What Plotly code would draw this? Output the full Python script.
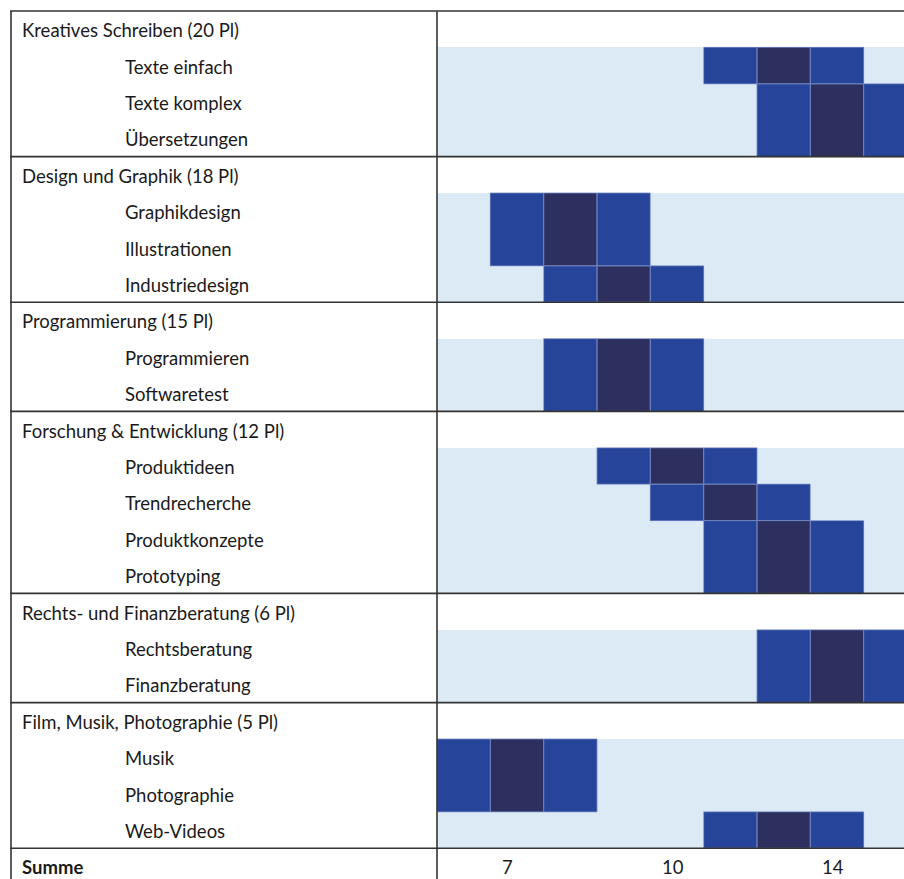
import plotly.graph_objects as go

# ---------------- data ----------------
group_labels = [
    "Kreatives Schreiben (20 Pl)",
    "Design und Graphik (18 Pl)",
    "Programmierung (15 Pl)",
    "Forschung & Entwicklung (12 Pl)",
    "Rechts- und Finanzberatung (6 Pl)",
    "Film, Musik, Photographie (5 Pl)",
]
group_items = [
    ["Texte einfach", "Texte komplex", "Übersetzungen"],
    ["Graphikdesign", "Illustrationen", "Industriedesign"],
    ["Programmieren", "Softwaretest"],
    ["Produktideen", "Trendrecherche", "Produktkonzepte", "Prototyping"],
    ["Rechtsberatung", "Finanzberatung"],
    ["Musik", "Photographie", "Web-Videos"],
]
# level per column (0 = light, 1 = blue, 2 = dark)
item_levels = {
    "Texte einfach":   [0, 0, 0, 0, 0, 1, 2, 1, 0],
    "Texte komplex":   [0, 0, 0, 0, 0, 0, 1, 2, 1],
    "Übersetzungen":   [0, 0, 0, 0, 0, 0, 1, 2, 1],
    "Graphikdesign":   [0, 1, 2, 1, 0, 0, 0, 0, 0],
    "Illustrationen":  [0, 1, 2, 1, 0, 0, 0, 0, 0],
    "Industriedesign": [0, 0, 1, 2, 1, 0, 0, 0, 0],
    "Programmieren":   [0, 0, 1, 2, 1, 0, 0, 0, 0],
    "Softwaretest":    [0, 0, 1, 2, 1, 0, 0, 0, 0],
    "Produktideen":    [0, 0, 0, 1, 2, 1, 0, 0, 0],
    "Trendrecherche":  [0, 0, 0, 0, 1, 2, 1, 0, 0],
    "Produktkonzepte": [0, 0, 0, 0, 0, 1, 2, 1, 0],
    "Prototyping":     [0, 0, 0, 0, 0, 1, 2, 1, 0],
    "Rechtsberatung":  [0, 0, 0, 0, 0, 0, 1, 2, 1],
    "Finanzberatung":  [0, 0, 0, 0, 0, 0, 1, 2, 1],
    "Musik":           [1, 2, 1, 0, 0, 0, 0, 0, 0],
    "Photographie":    [1, 2, 1, 0, 0, 0, 0, 0, 0],
    "Web-Videos":      [0, 0, 0, 0, 0, 1, 2, 1, 0],
}
n_cols = 9
summe_label = "Summe"
summe_cols = [1, 4, 7]
summe_vals = ["7", "10", "14"]

# ---------------- styles ----------------
W, H = 904, 879
LEFT, DIV, TOP = 11, 437, 11
ROW_H = 36.4
COL_W = 53.33
LIGHT, BLUE, DARK = "#dceaf6", "#26459a", "#2d305f"
LINE = "#333333"
TXT = "#1a1a1a"
FONT = "Lato"
FSIZE = 18.5

# build rows
rows = []  # (kind, label, levels)
for g, items in zip(group_labels, group_items):
    rows.append(("group", g, None))
    for it in items:
        rows.append(("item", it, item_levels[it]))
rows.append(("summe", summe_label, None))
n_rows = len(rows)

z = []
for kind, label, lv in rows:
    z.append(lv if lv is not None else [None] * n_cols)

fig = go.Figure()
fig.add_trace(go.Heatmap(
    z=z, x=list(range(n_cols)), y=list(range(n_rows)),
    zmin=0, zmax=2,
    colorscale=[[0, LIGHT], [0.333, LIGHT], [0.333, BLUE], [0.667, BLUE],
                [0.667, DARK], [1, DARK]],
    showscale=False, hoverinfo="skip",
))

shapes = []
# outlines of active cells: merge vertical runs of identical values in a column
for c in range(n_cols):
    r = 0
    while r < n_rows:
        v = z[r][c]
        if v is None or v == 0:
            r += 1
            continue
        r2 = r
        while r2 + 1 < n_rows and z[r2 + 1][c] == v:
            r2 += 1
        shapes.append(dict(type="rect", xref="x", yref="y",
                           x0=c - 0.5, x1=c + 0.5, y0=r - 0.5, y1=r2 + 0.5,
                           line=dict(color="rgba(115,135,195,0.8)", width=1),
                           fillcolor="rgba(0,0,0,0)", layer="above"))
        r = r2 + 1

# table lines
x_left = LEFT / W
x_div = DIV / W
group_bounds = [r - 0.5 for r, (k, _, _) in enumerate(rows) if k in ("group", "summe")]
for yb in group_bounds:
    shapes.append(dict(type="line", xref="paper", yref="y", x0=x_left - 0.001, x1=1,
                       y0=yb, y1=yb, line=dict(color=LINE, width=1.6), layer="above"))
for xv in (x_left, x_div):
    shapes.append(dict(type="line", xref="paper", yref="y", x0=xv, x1=xv,
                       y0=-0.5, y1=n_rows + 1, line=dict(color=LINE, width=1.6), layer="above"))

annotations = []
for r, (kind, label, lv) in enumerate(rows):
    if kind == "item":
        xp = 123 / W
        txt = label
    elif kind == "summe":
        xp = 20 / W
        txt = "<b>" + label + "</b>"
    else:
        xp = 20 / W
        txt = label
    annotations.append(dict(x=xp, y=r, xref="paper", yref="y", text=txt,
                            showarrow=False, xanchor="left", yanchor="middle", yshift=-1,
                            font=dict(family=FONT, size=FSIZE, color=TXT)))
summe_row = n_rows - 1
for c, v in zip(summe_cols, summe_vals):
    annotations.append(dict(x=c - 0.31, y=summe_row, xref="x", yref="y", text=v,
                            showarrow=False, xanchor="left", yanchor="middle", yshift=-1,
                            font=dict(family=FONT, size=FSIZE, color=TXT)))

y_top = -0.5 - TOP / ROW_H
y_bot = -0.5 + (H - TOP) / ROW_H
x_max = -0.5 + (W - DIV) / COL_W

fig.update_layout(
    width=W, height=H,
    margin=dict(l=0, r=0, t=0, b=0),
    paper_bgcolor="white", plot_bgcolor="white",
    xaxis=dict(domain=[x_div, 1], range=[-0.5, x_max], visible=False, fixedrange=True),
    yaxis=dict(domain=[0, 1], range=[y_bot, y_top], visible=False, fixedrange=True),
    shapes=shapes, annotations=annotations,
    showlegend=False,
)

fig.write_html("out.html", config={"displayModeBar": False},
               post_script="document.body.style.margin='0';document.body.style.overflow='hidden';")
